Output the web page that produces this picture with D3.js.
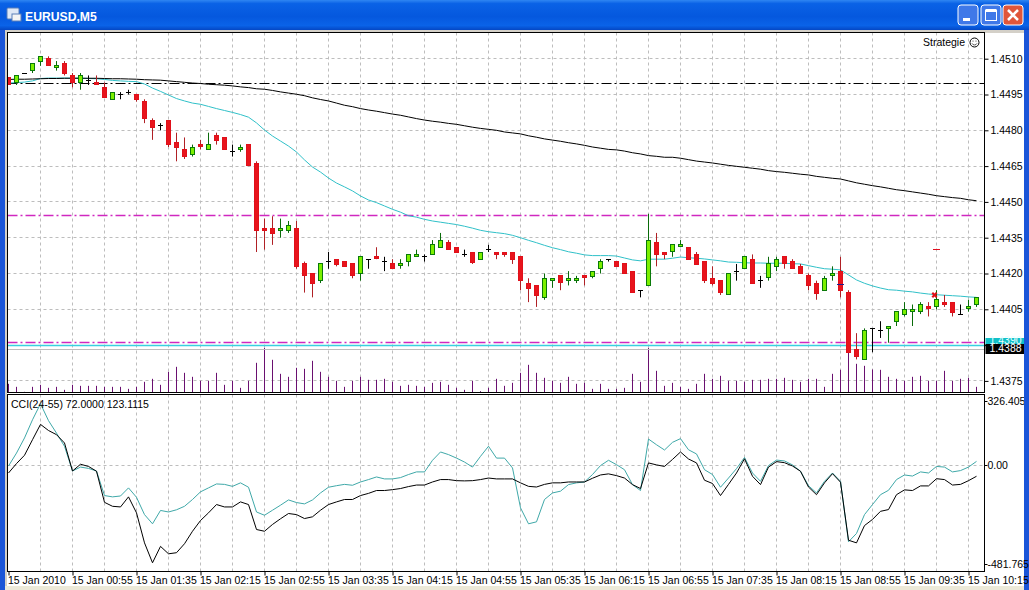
<!DOCTYPE html>
<html>
<head>
<meta charset="utf-8">
<title>EURUSD,M5</title>
<script src="https://cdn.jsdelivr.net/npm/d3@7"></script>
<style>
body { margin: 0; background: #fff; }
svg { display: block; }
text, .tick text { font-family: "Liberation Sans", sans-serif; font-size: 10.5px; fill: #000; }
</style>
</head>
<body>
<script>
const width = 1029;
const height = 590;
const svg = d3.select('body').append('svg')
    .attr('width', width)
    .attr('height', height);

// open, high, low, close in points (4502 = 1.4502)
const candles = [
    [4502,4502,4499,4499],[4500,4503,4499,4503],[4504,4504,4504,4504],[4505,4508,4504,4508],
    [4509,4511,4507,4511],[4510,4511,4507,4507],[4506,4509,4505,4507],[4508,4509,4503,4504],
    [4503,4504,4498,4500],[4500,4504,4497,4503],[4501,4503,4499,4501],[4500,4503,4499,4499],
    [4498,4500,4494,4494],[4493,4496,4493,4496],[4495,4496,4493,4495],[4496,4497,4495,4496],
    [4495,4495,4492,4493],[4492,4493,4483,4485],[4484,4485,4476,4481],[4482,4483,4480,4482],
    [4484,4484,4473,4474],[4475,4479,4467,4473],[4472,4477,4468,4469],[4470,4474,4469,4473],
    [4474,4476,4472,4473],[4472,4479,4472,4474],[4478,4479,4474,4476],[4477,4477,4472,4472],
    [4471,4474,4469,4471],[4472,4474,4471,4473],[4474,4474,4465,4465],[4466,4467,4429,4438],
    [4439,4443,4430,4438],[4439,4444,4432,4437],[4438,4443,4435,4439],[4438,4442,4437,4440],
    [4439,4442,4422,4423],[4424,4425,4412,4419],[4420,4420,4410,4416],[4417,4424,4416,4424],
    [4425,4429,4422,4425],[4426,4426,4423,4424],[4425,4425,4423,4423],[4424,4424,4418,4419],
    [4420,4427,4417,4427],[4426,4426,4422,4426],[4427,4431,4426,4426],[4425,4427,4421,4425],
    [4424,4426,4422,4422],[4423,4426,4422,4424],[4425,4428,4423,4428],[4427,4430,4427,4428],
    [4427,4428,4425,4427],[4428,4434,4428,4432],[4431,4437,4431,4434],[4433,4434,4430,4430],
    [4431,4431,4429,4429],[4428,4430,4427,4428],[4429,4429,4424,4425],[4426,4429,4426,4429],
    [4430,4432,4429,4430],[4429,4429,4426,4428],[4429,4429,4427,4428],[4429,4429,4424,4426],
    [4427,4427,4413,4417],[4416,4418,4408,4414],[4415,4415,4406,4411],[4410,4420,4409,4418],
    [4417,4418,4414,4418],[4419,4419,4413,4416],[4417,4421,4415,4418],[4417,4419,4416,4418],
    [4419,4419,4415,4418],[4419,4421,4418,4421],[4422,4426,4420,4425],[4426,4426,4425,4426],
    [4425,4425,4423,4423],[4424,4424,4420,4420],[4421,4421,4412,4412],[4413,4413,4410,4413],
    [4415,4445,4415,4434],[4433,4437,4423,4428],[4429,4429,4426,4428],[4429,4432,4427,4432],
    [4431,4434,4431,4432],[4431,4431,4426,4426],[4428,4429,4424,4424],[4425,4425,4416,4417],
    [4418,4423,4415,4416],[4417,4417,4411,4412],[4411,4420,4411,4420],[4421,4424,4417,4421],
    [4422,4427,4422,4427],[4426,4428,4416,4416],[4417,4419,4414,4417],[4418,4427,4417,4424],
    [4423,4427,4421,4426],[4427,4427,4422,4424],[4425,4426,4422,4422],[4423,4424,4420,4420],
    [4419,4420,4413,4415],[4416,4417,4409,4412],[4413,4419,4413,4418],[4419,4423,4417,4420],
    [4421,4427,4410,4413],[4412,4413,4387,4387],[4388,4395,4384,4385],[4384,4397,4384,4396],
    [4397,4397,4387,4397],[4396,4400,4393,4396],[4397,4398,4391,4398],[4400,4404,4398,4404],
    [4403,4408,4402,4405],[4404,4407,4398,4405],[4404,4408,4403,4407],[4406,4408,4402,4405],
    [4406,4413,4405,4409],[4408,4411,4406,4407],[4408,4408,4402,4404],[4403,4407,4403,4403],
    [4405,4409,4404,4406],[4407,4410,4406,4410]
];

const maFast = [
    4499.8,4500.0,4500.2,4500.7,4501.7,4501.9,4501.9,4501.9,4501.9,4501.9,4501.7,4501.6,4501.3,4500.9,
    4500.7,4500.5,4500.4,4499.4,4497.7,4496.3,4494.8,4493.3,4492.3,4491.4,4490.9,4490.0,4489.1,4488.3,
    4487.5,4486.6,4485.5,4483.1,4480.1,4477.6,4475.5,4473.4,4470.9,4467.6,4464.6,4462.5,4460.0,4457.9,
    4456.3,4454.6,4452.5,4450.8,4449.7,4448.3,4446.9,4445.7,4444.2,4443.6,4442.7,4442.0,4441.5,4441.0,
    4440.5,4439.8,4439.0,4438.1,4437.5,4437.1,4436.7,4436.0,4435.0,4433.9,4432.9,4431.8,4430.8,4430.0,
    4429.1,4428.5,4427.8,4427.5,4427.5,4427.5,4427.3,4426.5,4425.7,4425.3,4426.0,4426.0,4426.0,4426.4,
    4426.9,4426.6,4426.4,4426.1,4425.7,4425.3,4424.8,4424.7,4424.5,4424.4,4424.4,4424.3,4424.3,4424.3,
    4424.1,4424.0,4423.3,4422.6,4422.0,4421.8,4421.5,4419.4,4417.3,4415.9,4414.8,4413.9,4413.2,4413.0,
    4412.6,4412.3,4411.8,4411.4,4411.1,4410.9,4410.7,4410.5,4410.2,4410.0
];

const maSlow = [
    4501.3,4501.4,4501.4,4501.5,4501.6,4501.7,4501.7,4501.8,4501.8,4501.8,4501.8,4501.8,4501.7,4501.6,
    4501.6,4501.5,4501.4,4501.2,4501.1,4501.0,4500.7,4500.4,4500.1,4499.8,4499.6,4499.3,4499.1,4498.9,
    4498.6,4498.2,4497.9,4497.4,4497.2,4496.7,4496.1,4495.6,4495.1,4494.5,4493.6,4492.9,4492.3,4491.4,
    4490.5,4489.9,4489.1,4488.5,4488.0,4487.4,4486.8,4486.3,4485.6,4484.9,4484.3,4483.8,4483.4,4482.9,
    4482.5,4481.9,4481.3,4480.8,4480.4,4480.0,4479.3,4478.9,4478.5,4477.7,4477.1,4476.4,4475.9,4475.4,
    4474.8,4474.3,4473.7,4473.0,4472.5,4472.0,4471.8,4471.3,4470.6,4470.1,4469.4,4469.1,4468.7,4468.7,
    4468.3,4467.7,4467.1,4466.7,4466.3,4465.8,4465.3,4464.9,4464.5,4464.1,4463.7,4463.1,4462.7,4462.4,
    4462.0,4461.6,4461.3,4460.7,4460.3,4459.9,4459.6,4458.8,4458.0,4457.4,4456.8,4456.3,4455.7,4455.1,
    4454.7,4454.2,4453.7,4453.2,4452.6,4452.2,4451.8,4451.5,4450.9,4450.5
];

const volume = [
    26,17,2,17,23,14,17,8,23,20,20,20,17,17,17,11,17,32,41,23,62,77,59,47,35,35,59,23,35,14,35,89,
    134,98,56,47,74,71,95,62,47,35,17,35,47,38,38,41,32,20,23,20,17,29,32,23,14,8,35,4,14,41,20,29,
    59,83,59,44,35,29,47,26,29,11,26,11,11,14,56,32,134,65,20,29,17,11,26,56,41,50,35,35,32,38,38,41,
    41,44,38,32,41,41,17,56,68,131,86,80,69,68,47,41,35,47,50,35,35,65,35,41,44,17
];

const cciFast = [
    0,59,128,211,284,207,150,90,-23,-5,-11,-23,-135,-141,-137,-100,-143,-222,-264,-203,-210,-200,-184,-153,
    -118,-100,-82,-84,-93,-77,-97,-210,-225,-202,-179,-155,-167,-173,-155,-123,-97,-90,-84,-88,-73,-62,-50,-59,
    -59,-53,-39,-27,-27,26,64,52,36,18,-5,44,90,36,36,-9,-191,-264,-255,-153,-123,-115,-85,-77,
    -73,-39,2,26,6,-17,-85,-112,123,97,73,108,125,74,55,-17,-39,-97,-55,-12,39,-32,-70,2,
    27,23,5,-24,-90,-123,-70,-32,-70,-346,-308,-222,-176,-131,-111,-62,-41,-46,-27,-32,-2,-5,-27,-21,-5,21
];

const cciSlow = [
    -32,11,49,120,190,162,143,105,-23,8,-2,-24,-166,-184,-187,-141,-214,-351,-442,-367,-401,-396,-355,-298,
    -249,-214,-176,-187,-187,-164,-176,-290,-298,-267,-241,-217,-222,-240,-232,-202,-176,-164,-153,-153,-135,-125,-112,-112,
    -108,-103,-94,-87,-87,-73,-62,-62,-67,-68,-67,-62,-55,-59,-59,-59,-77,-93,-96,-84,-77,-77,-73,-73,
    -73,-56,-41,-36,-44,-55,-85,-103,14,5,-2,30,64,32,14,-65,-80,-135,-84,-32,33,-47,-85,-5,
    20,15,0,-24,-96,-131,-77,-35,-74,-339,-351,-272,-244,-207,-199,-131,-109,-112,-91,-91,-58,-62,-87,-84,-67,-47
];

const priceLevels = [
    { value: 1.44997, color: '#000', dash: '10,3,2,3', w: 1 },
    { value: 1.44445, color: '#d028c0', dash: '10,3,2,3', w: 1.4 },
    { value: 1.4391, color: '#d028c0', dash: '10,3,2,3', w: 1.4 },
    { value: 1.4390, color: '#38d0e0', dash: null, w: 1.4 },
    { value: 1.4388, color: '#bdbdbd', dash: null, w: 1.2 }
];

const bars = candles.map((c, i) => ({
    i,
    time: d3.timeMinute.offset(new Date(2010, 0, 15, 0, 15), i * 5),
    open: 1 + c[0] / 1e4,
    high: 1 + c[1] / 1e4,
    low: 1 + c[2] / 1e4,
    close: 1 + c[3] / 1e4,
    volume: volume[i],
    maFast: 1 + maFast[i] / 1e4,
    maSlow: 1 + maSlow[i] / 1e4,
    cciFast: cciFast[i],
    cciSlow: cciSlow[i]
}));

const left = 7.5;
const right = 984.5;
const mainTop = 32.5;
const mainBottom = 392.5;
const cciTop = 394.5;
const cciBottom = 571.5;

const x = d3.scaleLinear().domain([0, 121]).range([8.5, 976.5]);
const y = d3.scaleLinear().domain([1.4510, 1.4375]).range([58.7, 380.9]);
const vol = d3.scaleLinear().domain([0, 134]).range([mainBottom, mainBottom - 44.7]);
const cci = d3.scaleLinear().domain([-481.765, 326.4059]).range([cciBottom, cciTop]);

const snap = v => Math.round(v - 0.5) + 0.5;

drawWindow();

svg.append('clipPath').attr('id', 'mainClip').append('rect')
    .attr('x', left).attr('y', mainTop).attr('width', right - left).attr('height', mainBottom - mainTop);
svg.append('clipPath').attr('id', 'cciClip').append('rect')
    .attr('x', left).attr('y', cciTop).attr('width', right - left).attr('height', cciBottom - cciTop);

const gridX = d3.range(4, 122, 4);
const priceTicks = d3.range(1.4510, 1.4370, -0.0015);

drawGrid();
const main = svg.append('g').attr('clip-path', 'url(#mainClip)');
drawVolume(main);
drawLevels(main);
drawMovingAverages(main);
drawCandles(main);
drawMarkers(main);
drawCci();
drawFrames();
drawAxes();
drawLabels();

function drawWindow() {
    const defs = svg.append('defs');
    const title = defs.append('linearGradient').attr('id', 'titleBar')
        .attr('x1', 0).attr('y1', 0).attr('x2', 0).attr('y2', 1);
    [['0%', '#2f86f2'], ['12%', '#0a62e6'], ['55%', '#0558de'], ['85%', '#0a63e8'], ['100%', '#0447c4']]
        .forEach(s => title.append('stop').attr('offset', s[0]).attr('stop-color', s[1]));

    svg.append('rect').attr('width', width).attr('height', 30).attr('fill', 'url(#titleBar)');
    svg.append('rect').attr('y', 30).attr('width', 5).attr('height', height - 30).attr('fill', '#1a55d8');
    svg.append('rect').attr('x', 1024).attr('y', 30).attr('width', 5).attr('height', height - 30).attr('fill', '#1a55d8');
    svg.append('rect').attr('x', 5).attr('y', 30).attr('width', 1019).attr('height', 3).attr('fill', '#d4d0c8');
    svg.append('rect').attr('x', 5).attr('y', 30).attr('width', 2).attr('height', height - 30).attr('fill', '#d4d0c8');
    svg.append('rect').attr('x', 5).attr('y', 586).attr('width', 1019).attr('height', 4).attr('fill', '#ece9d8');

    // little chart icon next to the caption
    const icon = svg.append('g').attr('transform', 'translate(7,8)');
    icon.append('rect').attr('width', 12).attr('height', 11).attr('rx', 1).attr('fill', '#dfe8f6').attr('stroke', '#5a7fb8');
    icon.append('rect').attr('x', 5).attr('y', 6).attr('width', 9).attr('height', 7).attr('fill', '#f4f4f4').attr('stroke', '#5a7fb8');

    svg.append('text')
        .attr('x', 25).attr('y', 20.5)
        .style('font-size', '12.2px')
        .style('font-weight', 'bold')
        .style('fill', '#fff')
        .text('EURUSD,M5');

    drawButton(958, '#3f78e8', 'min');
    drawButton(981, '#3f78e8', 'max');
    drawButton(1003, '#e0563a', 'close');
}

function drawButton(bx, color, kind) {
    const b = svg.append('g').attr('transform', `translate(${bx},5)`);
    b.append('rect').attr('width', 20).attr('height', 20).attr('rx', 3)
        .attr('fill', color).attr('stroke', '#fff');
    if (kind === 'min') {
        b.append('rect').attr('x', 5).attr('y', 13).attr('width', 7).attr('height', 3).attr('fill', '#fff');
    } else if (kind === 'max') {
        b.append('rect').attr('x', 4.5).attr('y', 5.5).attr('width', 11).attr('height', 10)
            .attr('fill', 'none').attr('stroke', '#fff');
        b.append('rect').attr('x', 4.5).attr('y', 4).attr('width', 11).attr('height', 3).attr('fill', '#fff');
    } else {
        b.append('path').attr('d', 'M5,5L15,15M15,5L5,15').attr('stroke', '#fff').attr('stroke-width', 2.5);
    }
}

function drawGrid() {
    const g = svg.append('g')
        .attr('stroke', '#bdbdbd')
        .attr('stroke-width', 1)
        .attr('stroke-dasharray', '3,3');

    gridX.forEach(i => {
        g.append('line').attr('x1', snap(x(i))).attr('x2', snap(x(i))).attr('y1', mainTop).attr('y2', mainBottom);
        g.append('line').attr('x1', snap(x(i))).attr('x2', snap(x(i))).attr('y1', cciTop).attr('y2', cciBottom);
    });
    priceTicks.forEach(p => {
        g.append('line').attr('x1', left).attr('x2', right).attr('y1', snap(y(p))).attr('y2', snap(y(p)));
    });
    g.append('line').attr('x1', left).attr('x2', right).attr('y1', snap(cci(0))).attr('y2', snap(cci(0)));
}

function drawVolume(g) {
    g.append('g').selectAll('line')
        .data(bars)
        .join('line')
        .attr('x1', d => snap(x(d.i)))
        .attr('x2', d => snap(x(d.i)))
        .attr('y1', mainBottom)
        .attr('y2', d => vol(d.volume))
        .attr('stroke', '#6a1070')
        .attr('stroke-width', 1);
}

function drawLevels(g) {
    g.append('g').selectAll('line')
        .data(priceLevels)
        .join('line')
        .attr('x1', left)
        .attr('x2', right)
        .attr('y1', d => snap(y(d.value)))
        .attr('y2', d => snap(y(d.value)))
        .attr('stroke', d => d.color)
        .attr('stroke-width', d => d.w)
        .attr('stroke-dasharray', d => d.dash);
}

function drawMovingAverages(g) {
    const line = key => d3.line().x(d => x(d.i)).y(d => y(d[key]))(bars);
    g.append('path').attr('d', line('maFast')).attr('fill', 'none').attr('stroke', '#30c0c8');
    g.append('path').attr('d', line('maSlow')).attr('fill', 'none').attr('stroke', '#000');
}

function drawCandles(g) {
    const kind = d => d.close > d.open ? 'up' : d.close < d.open ? 'down' : 'doji';
    const wickColor = { up: '#0a6b0a', down: '#b02025', doji: '#000' };
    const edgeColor = { up: '#0a7a0a', down: '#e0101a', doji: '#000' };
    const fillColor = { up: '#7cf000', down: '#e8141c', doji: '#000' };

    const candle = g.append('g').selectAll('g')
        .data(bars)
        .join('g');

    candle.append('line')
        .attr('x1', d => snap(x(d.i)))
        .attr('x2', d => snap(x(d.i)))
        .attr('y1', d => y(d.high))
        .attr('y2', d => y(d.low))
        .attr('stroke', d => wickColor[kind(d)]);

    candle.filter(d => kind(d) !== 'doji').append('rect')
        .attr('x', d => snap(x(d.i)) - 2)
        .attr('width', 4)
        .attr('y', d => snap(y(Math.max(d.open, d.close))))
        .attr('height', d => Math.max(1, Math.round(y(Math.min(d.open, d.close)) - y(Math.max(d.open, d.close)))))
        .attr('fill', d => fillColor[kind(d)])
        .attr('stroke', d => edgeColor[kind(d)]);

    candle.filter(d => kind(d) === 'doji').append('line')
        .attr('x1', d => snap(x(d.i)) - 2.5)
        .attr('x2', d => snap(x(d.i)) + 2.5)
        .attr('y1', d => snap(y(d.open)))
        .attr('y2', d => snap(y(d.open)))
        .attr('stroke', '#000');
}

function drawMarkers(g) {
    // order arrows left on the chart
    const dash = [
        { i: 116, price: 1.4430, color: '#e01020' },
        { i: 104, price: 1.44153, color: '#1c1c90' }
    ];
    g.append('g').selectAll('line')
        .data(dash)
        .join('line')
        .attr('x1', d => x(d.i) - 3.5)
        .attr('x2', d => x(d.i) + 3.5)
        .attr('y1', d => snap(y(d.price)))
        .attr('y2', d => snap(y(d.price)))
        .attr('stroke', d => d.color);

    g.append('path')
        .attr('d', d3.symbol(d3.symbolCross, 22)())
        .attr('transform', `translate(${x(115.75)},${y(1.4411)}) rotate(45)`)
        .attr('fill', '#e0101a');
}

function drawCci() {
    const g = svg.append('g').attr('clip-path', 'url(#cciClip)');
    const line = key => d3.line().x(d => x(d.i)).y(d => cci(d[key]))(bars);
    g.append('path').attr('d', line('cciFast')).attr('fill', 'none').attr('stroke', '#3fa8a8');
    g.append('path').attr('d', line('cciSlow')).attr('fill', 'none').attr('stroke', '#000');
}

function drawFrames() {
    svg.append('rect').attr('x', left).attr('y', mainTop).attr('width', right - left).attr('height', mainBottom - mainTop)
        .attr('fill', 'none').attr('stroke', '#000');
    svg.append('rect').attr('x', left).attr('y', cciTop).attr('width', right - left).attr('height', cciBottom - cciTop)
        .attr('fill', 'none').attr('stroke', '#000');
}

function drawAxes() {
    const priceAxis = d3.axisRight(y)
        .tickValues(priceTicks)
        .tickSize(4)
        .tickPadding(2)
        .tickFormat(d3.format('.4f'));
    const gp = svg.append('g')
        .attr('transform', `translate(${right},0)`)
        .call(priceAxis);
    gp.select('.domain').remove();

    const timeFmt = d3.timeFormat('%d %b %H:%M');
    const timeAxis = d3.axisBottom(x)
        .tickValues(d3.range(0, 122, 8))
        .tickSize(4)
        .tickPadding(1)
        .tickFormat(i => i === 0 ? '15 Jan 2010' : timeFmt(bars[i].time));
    const gt = svg.append('g')
        .attr('transform', `translate(0,${cciBottom})`)
        .call(timeAxis);
    gt.select('.domain').remove();
    gt.selectAll('text').attr('text-anchor', 'start').attr('x', -1);

    // the extreme labels of the oscillator sit inside the pane, and run under the window edge
    const gc = svg.append('g');
    [
        { value: 326.4059, text: '326.4059', dy: 7 },
        { value: 0, text: '0.00', dy: 0 },
        { value: -481.765, text: '-481.765', dy: -7 }
    ].forEach(d => {
        gc.append('line')
            .attr('x1', right).attr('x2', right + 3)
            .attr('y1', snap(cci(d.value) + d.dy)).attr('y2', snap(cci(d.value) + d.dy))
            .attr('stroke', '#000');
        gc.append('text')
            .attr('x', right + 3)
            .attr('y', cci(d.value) + d.dy)
            .attr('dy', '0.32em')
            .text(d.text);
    });
    svg.append('rect').attr('x', 1024).attr('y', 395).attr('width', 5).attr('height', 20).attr('fill', '#1a55d8');
}

function drawLabels() {
    svg.append('rect').attr('x', right + 1).attr('y', 338).attr('width', 1024 - right - 1).attr('height', 7).attr('fill', '#10c0c8');
    // the bid tag is painted over the ask tag, as the terminal does
    svg.append('text')
        .attr('x', right + 5).attr('y', 340.5).attr('dy', '0.32em')
        .style('fill', '#e8ffff')
        .text('1.4390');
    svg.append('rect').attr('x', right + 1).attr('y', 344).attr('width', 1024 - right - 1).attr('height', 10).attr('fill', '#000');
    svg.append('text')
        .attr('x', right + 5).attr('y', 349).attr('dy', '0.32em')
        .style('fill', '#fff')
        .text('1.4388');

    svg.append('text')
        .attr('x', 965).attr('y', 43).attr('dy', '0.32em')
        .attr('text-anchor', 'end')
        .text('Strategie');
    const smile = svg.append('g').attr('transform', 'translate(974.5,42.5)');
    smile.append('circle').attr('r', 4.5).attr('fill', 'none').attr('stroke', '#000');
    smile.append('path').attr('d', 'M-2.5,0.8A2.7,2.7 0 0 0 2.5,0.8').attr('fill', 'none').attr('stroke', '#333').attr('stroke-width', 0.8);
    smile.append('circle').attr('cx', -1.5).attr('cy', -1.5).attr('r', 0.6).attr('fill', '#333');
    smile.append('circle').attr('cx', 1.5).attr('cy', -1.5).attr('r', 0.6).attr('fill', '#333');

    svg.append('text')
        .attr('x', 11).attr('y', 404.5).attr('dy', '0.32em')
        .text('CCI(24-55) 72.0000 123.1115');
}
</script>
</body>
</html>
